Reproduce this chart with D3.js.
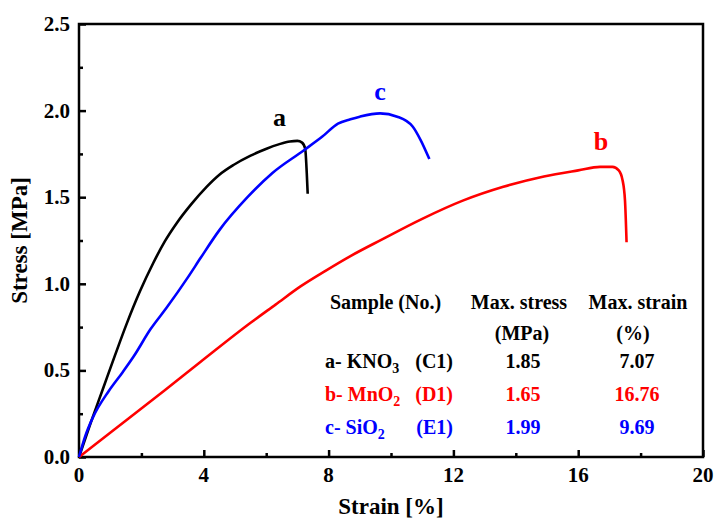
<!DOCTYPE html>
<html>
<head>
<meta charset="utf-8">
<script src="https://cdn.jsdelivr.net/npm/d3@7"></script>
</head>
<body style="margin:0">
<div class="chart"></div>
<script>
// curves: [strain %, stress MPa]
const curveA = [[0,0],[0.38,0.2],[0.76,0.39],[1.15,0.585],[1.53,0.77],[1.95,0.955],[2.38,1.12],[2.75,1.245],[3.13,1.35],[3.6,1.46],[4.09,1.56],[4.5,1.63],[4.95,1.686],[5.5,1.74],[6.01,1.78],[6.4,1.805],[6.76,1.822],[7.0,1.825],[7.15,1.815],[7.25,1.78],[7.3,1.64],[7.33,1.52]];
const curveB = [[0,0],[1,0.14],[2.76,0.387],[3.9,0.55],[5.5,0.775],[6.3,0.88],[7.1,0.985],[7.9,1.075],[8.7,1.16],[9.7,1.255],[11,1.375],[12.3,1.48],[13.6,1.56],[14.9,1.62],[16,1.655],[16.7,1.675],[17.1,1.675],[17.3,1.655],[17.42,1.6],[17.5,1.48],[17.55,1.24]];
const curveC = [[0,0],[0.2,0.12],[0.45,0.23],[0.95,0.38],[1.4,0.49],[1.75,0.58],[2.3,0.74],[2.8,0.86],[3.5,1.04],[3.9,1.15],[4.5,1.31],[5.4,1.5],[6.2,1.64],[7.2,1.77],[7.8,1.85],[8.3,1.925],[8.7,1.95],[9.0,1.965],[9.65,1.984],[10.2,1.965],[10.7,1.907],[10.95,1.83],[11.23,1.72]];

const xTicks = [0, 4, 8, 12, 16, 20];
const yTicks = [0, 0.5, 1.0, 1.5, 2.0, 2.5];

// table
const sampleNames = ['a- KNO', 'b- MnO', 'c- SiO'];
const sampleSubs = ['3', '2', '2'];
const sampleNos = ['(C1)', '(D1)', '(E1)'];
const maxStress = ['1.85', '1.65', '1.99'];
const maxStrain = ['7.07', '16.76', '9.69'];
const curveLetters = ['a', 'b', 'c'];
const colors = ['#000000', '#ff0000', '#0000ff'];

const W = 715, H = 520;
const margin = { top: 24, right: 12, bottom: 63, left: 79 };
const FONT = '"Liberation Serif", "Times New Roman", serif';

const svg = d3.select('.chart').append('svg')
  .attr('width', W)
  .attr('height', H);

const x = d3.scaleLinear().domain([0, 20]).range([margin.left, W - margin.right]);
const y = d3.scaleLinear().domain([0, 2.5]).range([H - margin.bottom, margin.top]);

// minor ticks halfway between majors
const xMinor = d3.range(2, 20, 4);
const yMinor = d3.range(0.25, 2.5, 0.5);

function txt(sel, size, tx, ty) {
  return sel.append('text')
    .attr('x', tx)
    .attr('y', ty)
    .style('font-family', FONT)
    .style('font-weight', 'bold')
    .style('font-size', size + 'px');
}

//X axis------------------------------------
svg.append('g')
  .attr('transform', `translate(0,${y(0)})`)
  .call(d3.axisBottom(x).tickValues(xTicks).tickFormat('').tickSizeInner(-7).tickSizeOuter(0))
  .call(g => g.select('.domain').remove())
  .call(g => g.selectAll('line').attr('stroke', '#000').attr('stroke-width', 2.5));

svg.append('g')
  .attr('transform', `translate(0,${y(0)})`)
  .call(d3.axisBottom(x).tickValues(xMinor).tickFormat('').tickSizeInner(-4).tickSizeOuter(0))
  .call(g => g.select('.domain').remove())
  .call(g => g.selectAll('line').attr('stroke', '#000').attr('stroke-width', 2.5));

xTicks.forEach(d => {
  txt(svg, 21, x(d), y(0) + 25).attr('text-anchor', 'middle').text(d3.format('d')(d));
});

//Y axis---------------------------
svg.append('g')
  .attr('transform', `translate(${x(0)},0)`)
  .call(d3.axisLeft(y).tickValues(yTicks).tickFormat('').tickSizeInner(-7).tickSizeOuter(0))
  .call(g => g.select('.domain').remove())
  .call(g => g.selectAll('line').attr('stroke', '#000').attr('stroke-width', 2.5));

svg.append('g')
  .attr('transform', `translate(${x(0)},0)`)
  .call(d3.axisLeft(y).tickValues(yMinor).tickFormat('').tickSizeInner(-4).tickSizeOuter(0))
  .call(g => g.select('.domain').remove())
  .call(g => g.selectAll('line').attr('stroke', '#000').attr('stroke-width', 2.5));

yTicks.forEach(d => {
  txt(svg, 21, x(0) - 9, y(d) + 7).attr('text-anchor', 'end').text(d3.format('.1f')(d));
});

// frame
svg.append('rect')
  .attr('x', x(0))
  .attr('y', y(2.5))
  .attr('width', x(20) - x(0))
  .attr('height', y(0) - y(2.5))
  .attr('fill', 'none')
  .attr('stroke', '#000')
  .attr('stroke-width', 2.5);

// curves
const line = d3.line()
  .x(d => x(d[0]))
  .y(d => y(d[1]))
  .curve(d3.curveMonotoneX);

const curves = [curveA, curveB, curveC];
curves.forEach((c, i) => {
  svg.append('path')
    .datum(c)
    .attr('d', line)
    .attr('fill', 'none')
    .attr('stroke', colors[i])
    .attr('stroke-width', 2.6)
    .attr('stroke-linejoin', 'round');
});

// curve letters, placed near each curve's peak
const letterOffset = [[-18, -15], [1, -17], [0, -13]];
curves.forEach((c, i) => {
  const peak = c.reduce((a, b) => (b[1] > a[1] ? b : a));
  txt(svg, 26, x(peak[0]) + letterOffset[i][0], y(peak[1]) + letterOffset[i][1])
    .attr('text-anchor', 'middle')
    .attr('fill', colors[i])
    .text(curveLetters[i]);
});

// table ------------------------------
const tbl = svg.append('g');
const TS = 20;
txt(tbl, TS, 330, 309).text('Sample (No.)');
txt(tbl, TS, 519, 309).attr('text-anchor', 'middle').text('Max. stress');
txt(tbl, TS, 638, 309).attr('text-anchor', 'middle').text('Max. strain');
txt(tbl, TS, 522, 340).attr('text-anchor', 'middle').text('(MPa)');
txt(tbl, TS, 633, 340).attr('text-anchor', 'middle').text('(%)');

const rowY = [368, 401, 434];
sampleNames.forEach((name, i) => {
  const t = txt(tbl, TS, 325, rowY[i]).attr('fill', colors[i]);
  t.append('tspan').text(name);
  t.append('tspan').attr('dy', 5).style('font-size', '14px').text(sampleSubs[i]);
  txt(tbl, TS, 453, rowY[i]).attr('text-anchor', 'end')
    .attr('fill', colors[i]).text(sampleNos[i]);
  txt(tbl, TS, 523, rowY[i]).attr('text-anchor', 'middle')
    .attr('fill', colors[i]).text(maxStress[i]);
  txt(tbl, TS, 637, rowY[i]).attr('text-anchor', 'middle')
    .attr('fill', colors[i]).text(maxStrain[i]);
});

// X axis label
txt(svg, 23, (x(0) + x(20)) / 2, 514)
  .attr('text-anchor', 'middle')
  .text('Strain [%]');

// Y axis label
txt(svg, 23, 0, 0)
  .attr('transform', `translate(27,${(y(0) + y(2.5)) / 2}) rotate(-90)`)
  .attr('text-anchor', 'middle')
  .text('Stress [MPa]');
</script>
</body>
</html>
